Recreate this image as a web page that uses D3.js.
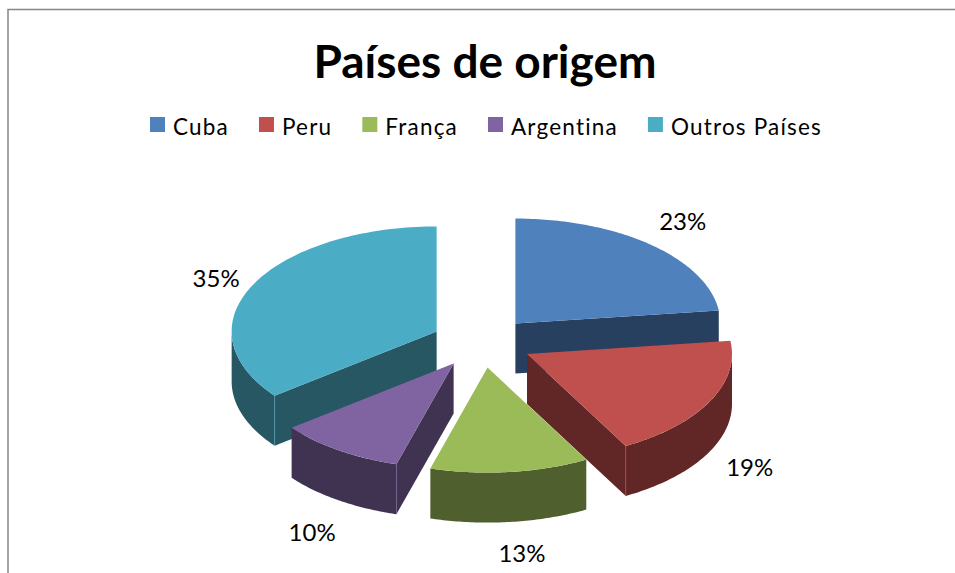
<!DOCTYPE html>
<html><head><meta charset="utf-8">
<script src="https://cdn.jsdelivr.net/npm/d3@7/dist/d3.min.js"></script>
<style>html,body{margin:0;padding:0;background:#fff}svg{display:block}text{font-family:Lato,"Open Sans",sans-serif;fill:#000}</style>
</head><body><svg id="c" width="955" height="573"></svg>
<script>
const titleText = "Países de origem";
const categories = ["Cuba","Peru","França","Argentina","Outros Países"];
const values = [23,19,12.5,10,35.5];
const labels = ["23%","19%","13%","10%","35%"];
const topColors = ["#4F81BD","#C0504D","#9BBB59","#8064A2","#4BACC6"];
const sideColors = ["#28405F","#612726","#4F5F2D","#403251","#265763"];
const drawOrder = [4,0,3,1,2];

const W=955,H=573,cx=482,cy=342.5,rx=205,ry=105,depth=50,explode=50.5;
const labelNudgeX=[2,0,7,-1,4], labelNudgeY=[0,3,2,8,7];
const svg=d3.select("#c");
svg.append("path").attr("d",d3.line()([[8,H],[8,9.5],[W,9.5]])).attr("fill","none").attr("stroke","#868686").attr("stroke-width",1.5);

svg.append("text").attr("x",485).attr("y",78).attr("text-anchor","middle")
  .attr("font-size",46).attr("font-weight",700).text(titleText);

// legend: measured flow layout
const sw=15,gapST=8,gapItem=30,legY=117;
const leg=svg.append("g");
let lx=0;
categories.forEach((c,i)=>{
  leg.append("rect").attr("x",lx).attr("y",legY).attr("width",sw).attr("height",sw).attr("fill",topColors[i]);
  const t=leg.append("text").attr("x",lx+sw+gapST).attr("y",legY+17.5).attr("font-size",22.5).attr("letter-spacing",1.2).text(c);
  lx+=sw+gapST+t.node().getComputedTextLength()+gapItem;
});
leg.attr("transform",`translate(${150},0)`);

const pie=d3.pie().value(d=>d).sort(null);
const arcs=pie(values);
const px=a=>rx*Math.sin(a), py=a=>-ry*Math.cos(a);
const line=d3.line();
const q=Math.PI/2;

drawOrder.forEach(i=>{
  const s=arcs[i], mid=(s.startAngle+s.endAngle)/2;
  const ax=cx+explode*Math.sin(mid), ay=cy-explode*Math.cos(mid)*0.5;
  const g=svg.append("g");
  const pt=(a,d=0)=>[ax+px(a),ay+py(a)+d];
  const wall=a=>[[ax,ay],pt(a),pt(a,depth),[ax,ay+depth]];
  // radial walls that face the viewer
  if(Math.cos(s.startAngle-q)<0) g.append("path").attr("d",line(wall(s.startAngle))+"Z").attr("fill",sideColors[i]);
  if(Math.cos(s.endAngle+q)<0) g.append("path").attr("d",line(wall(s.endAngle))+"Z").attr("fill",sideColors[i]);
  // outer rim, front half only
  const r0=Math.max(s.startAngle,q), r1=Math.min(s.endAngle,3*q);
  if(r1>r0){
    const n=60, as=d3.range(n+1).map(k=>r0+(r1-r0)*k/n);
    const rim=as.map(a=>pt(a)).concat(as.slice().reverse().map(a=>pt(a,depth)));
    g.append("path").attr("d",line(rim)+"Z").attr("fill",sideColors[i]);
  }
  // light corner line
  [s.startAngle,s.endAngle].forEach(a=>{
    if(a>q && a<3*q && ((a===s.startAngle&&Math.cos(a-q)<0)||(a===s.endAngle&&Math.cos(a+q)<0))){
      g.append("path").attr("d",line([pt(a),pt(a,depth)])).attr("stroke",topColors[i]).attr("stroke-opacity",.6).attr("stroke-width",.8);
    }
  });
  // top face
  const n=90, top=[[ax,ay]].concat(d3.range(n+1).map(k=>pt(s.startAngle+(s.endAngle-s.startAngle)*k/n)));
  g.append("path").attr("d",line(top)+"Z").attr("fill",topColors[i]);
  // label
  const front=Math.cos(mid)<0;
  svg.append("text").datum(s).attr("class","lbl")
    .attr("x",ax+250*Math.sin(mid)+labelNudgeX[i]).attr("y",ay-135*Math.cos(mid)+(front?depth:0)+8+labelNudgeY[i])
    .attr("text-anchor","middle").attr("font-size",24).text(labels[i]);
});
svg.selectAll(".lbl").raise();
</script></body></html>
